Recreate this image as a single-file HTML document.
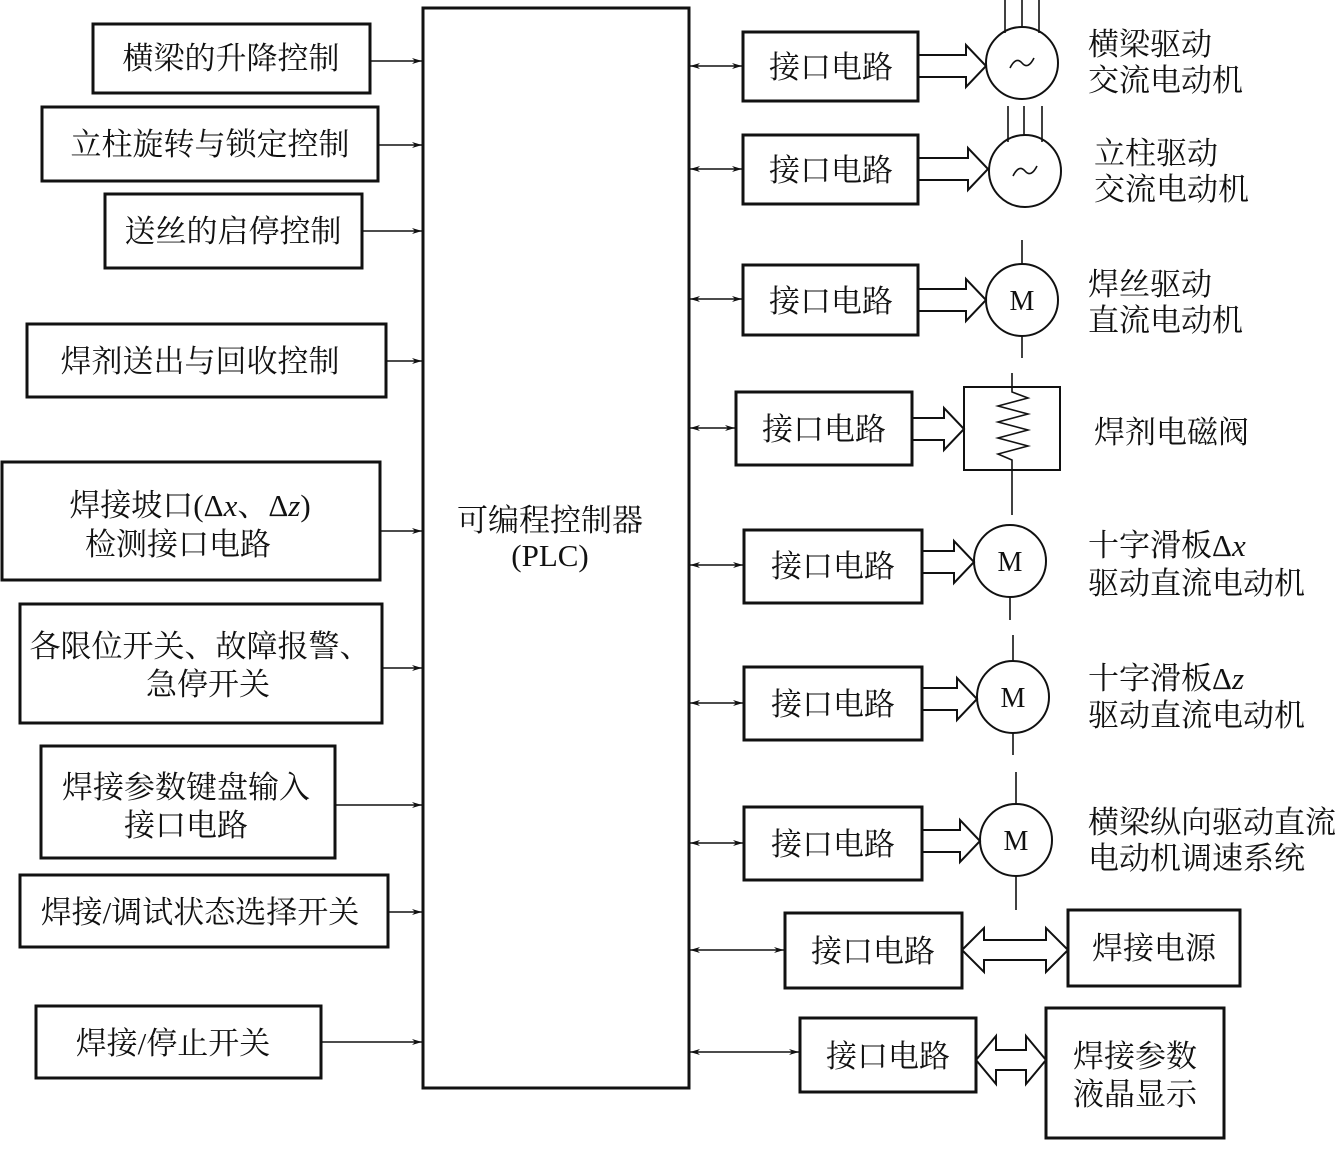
<!DOCTYPE html>
<html><head><meta charset="utf-8"><style>
html,body{margin:0;padding:0;background:#fff;}
svg{display:block;}
text{font-family:"Liberation Serif","Noto Serif CJK SC",serif;font-size:31px;fill:#111;}
</style></head><body>
<svg width="1339" height="1155" viewBox="0 0 1339 1155" xmlns="http://www.w3.org/2000/svg">
<defs>
<marker id="a" markerWidth="10" markerHeight="8" refX="10" refY="4" orient="auto" markerUnits="userSpaceOnUse"><path d="M0,1 L10,4 L0,7 L3,4 Z" fill="#111"/></marker>
<marker id="as" markerWidth="10" markerHeight="8" refX="0" refY="4" orient="auto" markerUnits="userSpaceOnUse"><path d="M10,1 L0,4 L10,7 L7,4 Z" fill="#111"/></marker>
</defs>
<g fill="none" stroke="#111" stroke-width="3">
<rect x="93" y="24" width="277" height="69"/>
<rect x="42" y="107" width="336" height="74"/>
<rect x="105" y="194" width="257" height="74"/>
<rect x="27" y="324" width="359" height="73"/>
<rect x="2" y="462" width="378" height="118"/>
<rect x="20" y="604" width="362" height="119"/>
<rect x="41" y="746" width="294" height="112"/>
<rect x="20" y="875" width="368" height="72"/>
<rect x="36" y="1006" width="285" height="72"/>
<rect x="423" y="8" width="266" height="1080"/>
<rect x="743" y="32" width="175" height="69"/>
<rect x="743" y="135" width="175" height="69"/>
<rect x="743" y="265" width="175" height="70"/>
<rect x="736" y="392" width="176" height="73"/>
<rect x="744" y="530" width="178" height="73"/>
<rect x="744" y="667" width="178" height="73"/>
<rect x="744" y="807" width="178" height="73"/>
<rect x="785" y="913" width="177" height="75"/>
<rect x="800" y="1018" width="176" height="74"/>
<rect x="1068" y="910" width="172" height="76"/>
<rect x="1046" y="1008" width="178" height="130"/>
</g>
<g stroke="#111" stroke-width="1.6" fill="none">
<line x1="370" y1="61" x2="422" y2="61" marker-end="url(#a)"/>
<line x1="378" y1="145" x2="422" y2="145" marker-end="url(#a)"/>
<line x1="362" y1="231" x2="422" y2="231" marker-end="url(#a)"/>
<line x1="386" y1="361" x2="422" y2="361" marker-end="url(#a)"/>
<line x1="380" y1="531" x2="422" y2="531" marker-end="url(#a)"/>
<line x1="382" y1="668" x2="422" y2="668" marker-end="url(#a)"/>
<line x1="335" y1="805" x2="422" y2="805" marker-end="url(#a)"/>
<line x1="388" y1="912" x2="422" y2="912" marker-end="url(#a)"/>
<line x1="321" y1="1042" x2="422" y2="1042" marker-end="url(#a)"/>
<line x1="690" y1="66" x2="742" y2="66" marker-start="url(#as)" marker-end="url(#a)"/>
<line x1="690" y1="169" x2="742" y2="169" marker-start="url(#as)" marker-end="url(#a)"/>
<line x1="690" y1="299" x2="742" y2="299" marker-start="url(#as)" marker-end="url(#a)"/>
<line x1="690" y1="428" x2="735" y2="428" marker-start="url(#as)" marker-end="url(#a)"/>
<line x1="690" y1="565" x2="743" y2="565" marker-start="url(#as)" marker-end="url(#a)"/>
<line x1="690" y1="703" x2="743" y2="703" marker-start="url(#as)" marker-end="url(#a)"/>
<line x1="690" y1="843" x2="743" y2="843" marker-start="url(#as)" marker-end="url(#a)"/>
<line x1="690" y1="950" x2="784" y2="950" marker-start="url(#as)" marker-end="url(#a)"/>
<line x1="690" y1="1052" x2="799" y2="1052" marker-start="url(#as)" marker-end="url(#a)"/>
<path d="M918,55 H966 V45 L986,66 L966,87 V77 H918" stroke-width="2"/>
<path d="M918,158 H968 V148 L988,169 L968,190 V180 H918" stroke-width="2"/>
<path d="M918,289 H966 V279 L986,300 L966,321 V311 H918" stroke-width="2"/>
<path d="M912,418 H944 V408 L964,429 L944,450 V440 H912" stroke-width="2"/>
<path d="M922,551 H954 V541 L974,562 L954,583 V573 H922" stroke-width="2"/>
<path d="M922,688 H957 V678 L977,699 L957,720 V710 H922" stroke-width="2"/>
<path d="M922,830 H960 V820 L980,841 L960,862 V852 H922" stroke-width="2"/>
<path d="M962,950 L984,928 V940 H1046 V928 L1068,950 L1046,972 V960 H984 V972 Z" stroke-width="2"/>
<path d="M976,1060 L996,1036 V1050 H1026 V1036 L1046,1060 L1026,1084 V1070 H996 V1084 Z" stroke-width="2"/>
<circle cx="1022" cy="63" r="36" stroke-width="2"/>
<circle cx="1025" cy="171" r="36" stroke-width="2"/>
<circle cx="1022" cy="300" r="36" stroke-width="2"/>
<circle cx="1010" cy="561" r="36" stroke-width="2"/>
<circle cx="1013" cy="697" r="36" stroke-width="2"/>
<circle cx="1016" cy="840" r="36" stroke-width="2"/>
<rect x="964" y="387" width="96" height="83" stroke-width="2"/>
<path d="M1012,373 V392 L1028,398 L998,406 L1028,414 L998,422 L1028,430 L998,438 L1028,446 L998,454 L1012,460 V470"/>
<line x1="1012" y1="470" x2="1012" y2="515"/>
<line x1="1005" y1="0" x2="1005" y2="33"/><line x1="1022" y1="0" x2="1022" y2="27"/><line x1="1039" y1="0" x2="1039" y2="33"/>
<line x1="1008" y1="106" x2="1008" y2="142"/><line x1="1024" y1="106" x2="1024" y2="135"/><line x1="1042" y1="106" x2="1042" y2="142"/>
<line x1="1022" y1="240" x2="1022" y2="264"/><line x1="1022" y1="336" x2="1022" y2="358"/>
<line x1="1010" y1="597" x2="1010" y2="620"/>
<line x1="1013" y1="635" x2="1013" y2="661"/><line x1="1013" y1="733" x2="1013" y2="755"/>
<line x1="1016" y1="772" x2="1016" y2="804"/><line x1="1016" y1="876" x2="1016" y2="910"/>
<path d="M1010,68 q6,-12 12,-5 q6,7 12,-5" />
<path d="M1013,176 q6,-12 12,-5 q6,7 12,-5" />
</g>
<g text-anchor="middle">
<text x="231" y="69">横梁的升降控制</text>
<text x="210" y="155">立柱旋转与锁定控制</text>
<text x="233" y="242">送丝的启停控制</text>
<text x="200" y="372">焊剂送出与回收控制</text>
<text x="190" y="516">焊接坡口(Δ<tspan font-style="italic">x</tspan>、Δ<tspan font-style="italic">z</tspan>)</text>
<text x="178" y="555">检测接口电路</text>
<text x="200" y="657">各限位开关、故障报警、</text>
<text x="208" y="695">急停开关</text>
<text x="186" y="798">焊接参数键盘输入</text>
<text x="186" y="836">接口电路</text>
<text x="200" y="923">焊接/调试状态选择开关</text>
<text x="173" y="1054">焊接/停止开关</text>
<text x="550" y="531">可编程控制器</text>
<text x="550" y="566">(PLC)</text>
<text x="831" y="78">接口电路</text>
<text x="831" y="181">接口电路</text>
<text x="831" y="312">接口电路</text>
<text x="824" y="440">接口电路</text>
<text x="833" y="577">接口电路</text>
<text x="833" y="715">接口电路</text>
<text x="833" y="855">接口电路</text>
<text x="873" y="962">接口电路</text>
<text x="888" y="1067">接口电路</text>
<text x="1154" y="959">焊接电源</text>
<text x="1135" y="1067">焊接参数</text>
<text x="1135" y="1105">液晶显示</text>
<text x="1022" y="310" style="font-size:28px">M</text>
<text x="1010" y="571" style="font-size:28px">M</text>
<text x="1013" y="707" style="font-size:28px">M</text>
<text x="1016" y="850" style="font-size:28px">M</text>
</g>
<g>
<text x="1088" y="55">横梁驱动</text>
<text x="1088" y="91">交流电动机</text>
<text x="1094" y="164">立柱驱动</text>
<text x="1094" y="200">交流电动机</text>
<text x="1088" y="295">焊丝驱动</text>
<text x="1088" y="331">直流电动机</text>
<text x="1094" y="443">焊剂电磁阀</text>
<text x="1088" y="556">十字滑板Δ<tspan font-style="italic">x</tspan></text>
<text x="1088" y="594">驱动直流电动机</text>
<text x="1088" y="689">十字滑板Δ<tspan font-style="italic">z</tspan></text>
<text x="1088" y="726">驱动直流电动机</text>
<text x="1088" y="833">横梁纵向驱动直流</text>
<text x="1088" y="869">电动机调速系统</text>
</g>
</svg>
</body></html>
